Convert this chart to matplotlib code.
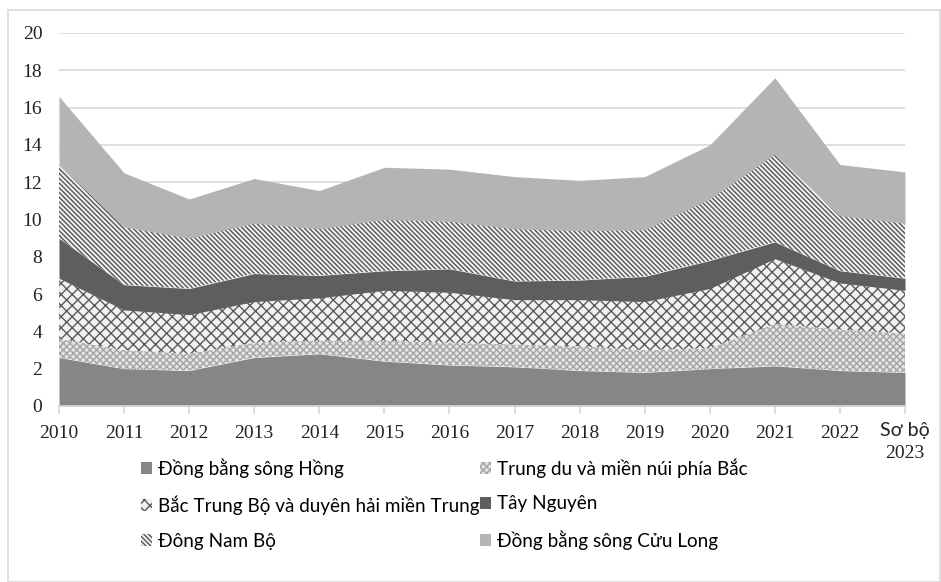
import matplotlib.pyplot as plt
import matplotlib.patches as mpatches
import numpy as np

plt.rcParams["hatch.linewidth"] = 1.0

years = ["2010", "2011", "2012", "2013", "2014", "2015", "2016", "2017",
         "2018", "2019", "2020", "2021", "2022", "Sơ bộ\n2023"]

# regional shares, bottom to top
dbsh = [2.6, 2.0, 1.9, 2.6, 2.8, 2.4, 2.2, 2.1, 1.9, 1.8, 2.0, 2.15, 1.9, 1.8]
trung_du = [1.0, 1.0, 0.9, 0.8, 0.7, 1.1, 1.2, 1.2, 1.3, 1.2, 1.1, 2.25, 2.2, 2.1]
bac_trung_bo = [3.25, 2.15, 2.1, 2.2, 2.3, 2.7, 2.7, 2.4, 2.5, 2.6, 3.2, 3.5, 2.5, 2.3]
tay_nguyen = [2.15, 1.35, 1.4, 1.5, 1.2, 1.05, 1.25, 1.0, 1.05, 1.35, 1.5, 0.9, 0.65, 0.65]
dong_nam_bo = [3.95, 3.1, 2.7, 2.7, 2.5, 2.75, 2.55, 2.8, 2.65, 2.5, 3.3, 4.7, 2.95, 2.95]
dbscl = [3.65, 2.9, 2.1, 2.4, 2.05, 2.8, 2.8, 2.8, 2.7, 2.85, 2.9, 4.1, 2.75, 2.75]

labels = ["Đồng bằng sông Hồng", "Trung du và miền núi phía Bắc",
          "Bắc Trung Bộ và duyên hải miền Trung", "Tây Nguyên",
          "Đông Nam Bộ", "Đồng bằng sông Cửu Long"]
series = [dbsh, trung_du, bac_trung_bo, tay_nguyen, dong_nam_bo, dbscl]
faces = ["#868686", "#e4e4e6", "#f1f1f3", "#5f5d5e", "#f1f1f3", "#b4b4b4"]
hatch_cols = ["#868686", "#a5a5a7", "#5a5a5c", "#5f5d5e", "#555557", "#b4b4b4"]
hatches = [None, "xxxxx", "xxx", None, "\\\\\\\\\\\\\\", None]

sans = ["Lato", "DejaVu Sans"]
serif = "Liberation Serif"

fig = plt.figure(figsize=(9.41, 5.82), dpi=100)
ax = fig.add_axes([59 / 941, 1 - 406 / 582, 846 / 941, 373 / 582])

x = np.arange(len(years))
base = np.zeros(len(years))
handles = []
for vals, lab, fc, hc, h in zip(series, labels, faces, hatch_cols, hatches):
    top = base + np.array(vals)
    ax.fill_between(x, base, top, facecolor=fc, edgecolor=hc, hatch=h,
                    linewidth=0, zorder=2)
    handles.append(mpatches.Patch(facecolor=fc, edgecolor=hc, hatch=h,
                                  linewidth=0, label=lab))
    base = top

ax.set_xlim(0, len(years) - 1)
ax.set_ylim(0, 20)
ax.set_yticks(range(0, 21, 2))
ax.yaxis.grid(True, color="#d9d9d9", linewidth=1.2)
ax.set_axisbelow(True)
for s in ["top", "right", "left"]:
    ax.spines[s].set_visible(False)
ax.spines["bottom"].set_color("#d9d9d9")
ax.spines["bottom"].set_linewidth(1.2)
ax.tick_params(axis="y", length=0, pad=12, labelsize=14)
ax.tick_params(axis="x", length=6, color="#d9d9d9", width=1.2, pad=8,
               labelsize=14)
ax.set_xticks(x)
ax.set_xticklabels(years)
for lbl in ax.get_yticklabels() + ax.get_xticklabels():
    lbl.set_family(serif)
    lbl.set_color("#222222")
ax.get_xticklabels()[-1].set_visible(False)
ax.text(len(years) - 1, -0.85, "Sơ bộ", ha="center", va="top", fontsize=14,
        family=sans, color="#222222")
ax.text(len(years) - 1, -2.1, "2023", ha="center", va="top", fontsize=14,
        family=serif, color="#222222")

order = [0, 2, 4, 1, 3, 5]
leg = fig.legend([handles[i] for i in order], [labels[i] for i in order],
                 ncol=2, loc="upper left",
                 bbox_to_anchor=(124 / 941, 1 - 441 / 582),
                 frameon=False, handlelength=0.6, handleheight=0.6,
                 handletextpad=0.3, columnspacing=0.0, labelspacing=0.95,
                 prop={"family": sans, "size": 13.6})

fig.patches.append(mpatches.Rectangle((8 / 941, 0), 932 / 941, 1 - 10 / 582,
                                      transform=fig.transFigure, fill=False,
                                      edgecolor="#d9d9d9", linewidth=1.2))

fig.savefig("out.png", dpi=100)
